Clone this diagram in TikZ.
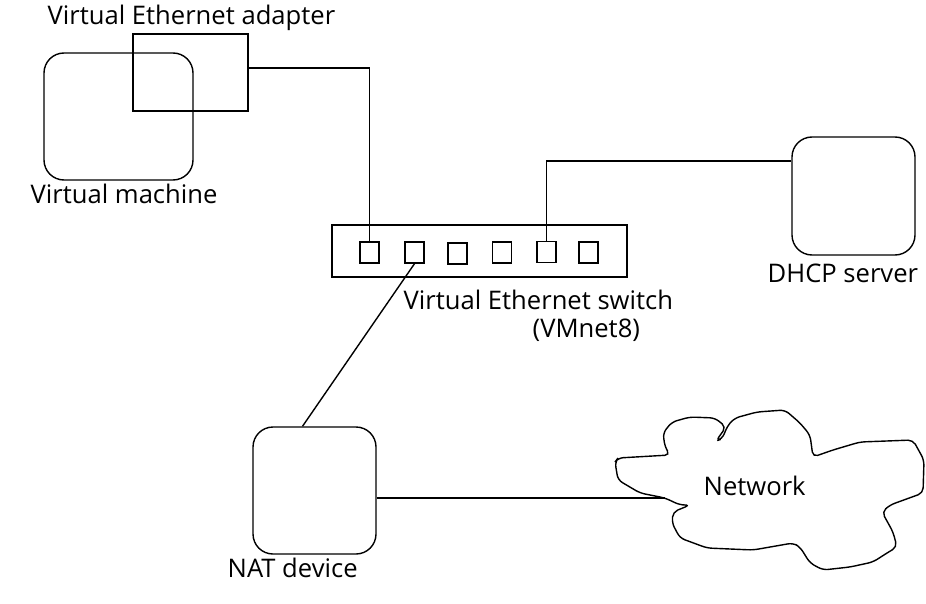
\documentclass[tikz,border=0pt]{standalone}
\usepackage{fontspec}
\setmainfont{Open Sans}
\usepackage{tikz}

\begin{document}
\begin{tikzpicture}[x=1pt, y=-1pt, line width=1.4pt,
        device/.style={draw, rounded corners=20pt, inner sep=0pt},
        port/.style={draw, inner sep=0pt, minimum width=19pt, minimum height=21pt},
        lbl/.style={font=\fontsize{25.6}{30}\selectfont, inner sep=0pt, anchor=base west}]
                \useasboundingbox (0,0) rectangle (926,604);
                \node[device, minimum width=149pt, minimum height=127pt] (vm) at (118.5,116.5) {};
                \node[draw, inner sep=0pt, minimum width=115pt, minimum height=77pt] (adapter) at (190.5,72.5) {};
                \node[draw, inner sep=0pt, minimum width=295pt, minimum height=52pt] (switch) at (479.5,251) {};
                \node[port] (p1) at (369.5,252.5) {};
                \node[port] (p2) at (414.5,252.5) {};
                \node[port] (p3) at (457.5,253.5) {};
                \node[port] (p4) at (502,252.5) {};
                \node[port] (p5) at (546.5,252) {};
                \node[port] (p6) at (588.5,252.5) {};
                \node[device, minimum width=123pt, minimum height=118pt] (dhcp) at (853.5,196) {};
                \node[device, minimum width=123pt, minimum height=127pt] (nat) at (314.5,490.5) {};
                \coordinate (cloudin) at (665,498);
                \draw[rounded corners=5pt] (cloudin) -- (640,493) -- (618,480) -- (615,462) -- (618,458) -- (670,455)
                    -- (665,447) -- (663,433) -- (672,422) -- (690,417) -- (715,418) -- (726,427) -- (716,441)
                    -- (722,439) -- (728,425) -- (735,418) -- (757,412) -- (785,410) -- (800,423) -- (810,435)
                    -- (813,457) -- (833,450) -- (860,442) -- (913,440) -- (924,460) -- (923,493) -- (890,505)
                    -- (882,512) -- (893,532) -- (897,547) -- (887,553) -- (873,562) -- (850,567) -- (823,570)
                    -- (810,563) -- (800,547) -- (793,543) -- (753,550) -- (707,548) -- (680,538) -- (672,523)
                    -- (673,512) -- (690,505) -- (680,505) -- cycle;
                \node[lbl] (adaptertext) at (47,25) {Virtual Ethernet adapter};
                \node[lbl] (vmtext) at (30,204) {Virtual machine};
                \node[lbl] (switchtext) at (403,309) {Virtual Ethernet switch};
                \node[lbl] (vmnettext) at (532,337) {(VMnet8)};
                \node[lbl] (dhcptext) at (767,282) {DHCP server};
                \node[lbl] (nattext) at (227,577) {NAT device};
                \node[lbl] (nettext) at (703,495) {Network};
                \draw ([yshift=4.5pt]adapter.east) -| (p1.north);
                \draw (p5.north) |- ([yshift=35pt]dhcp.west);
                \draw (p2.south) -- ([xshift=-12pt]nat.north);
                \draw (nat.east |- cloudin) -- (cloudin);
            \end{tikzpicture}
\end{document}
